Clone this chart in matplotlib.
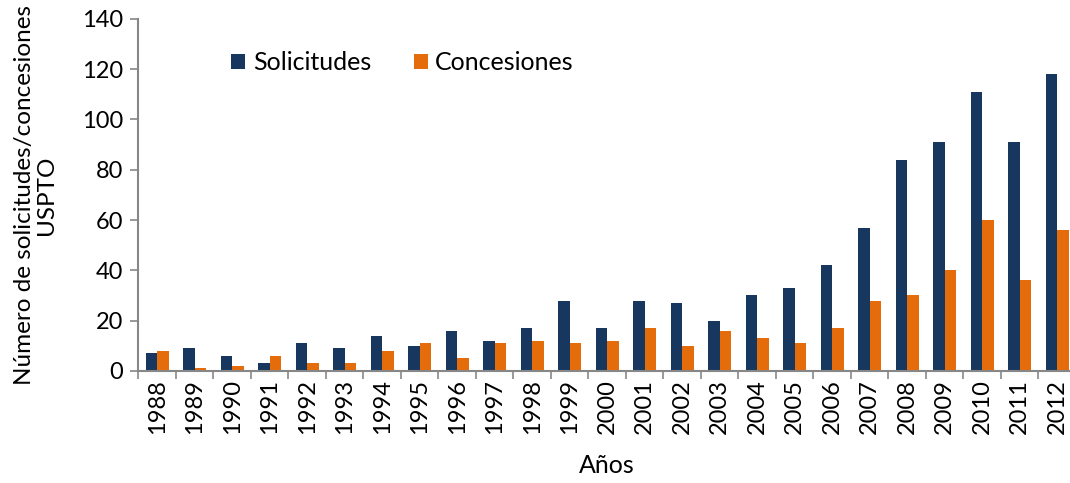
import matplotlib
matplotlib.use("Agg")
import matplotlib.pyplot as plt
import numpy as np

years = [str(y) for y in range(1988, 2013)]
solicitudes = [7, 9, 6, 3, 11, 9, 14, 10, 16, 12, 17, 28, 17, 28, 27, 20,
               30, 33, 42, 57, 84, 91, 111, 91, 118]
concesiones = [8, 1, 2, 6, 3, 3, 8, 11, 5, 11, 12, 11, 12, 17, 10, 16,
               13, 11, 17, 28, 30, 40, 60, 36, 56]

plt.rcParams['font.family'] = ['Lato', 'DejaVu Sans']
AXIS_GREY = '#878787'

fig = plt.figure(figsize=(10.7, 4.83), dpi=100)
ax = fig.add_axes([0.1294, 0.232, 0.8762, 0.729])

x = np.arange(len(years))
w = 0.31
ax.bar(x - w / 2, solicitudes, w, color='#17375E', label='Solicitudes')
ax.bar(x + w / 2, concesiones, w, color='#E46C0A', label='Concesiones')

ax.set_xlim(-0.5, len(years) - 0.5)
ax.set_ylim(0, 140)
ax.set_yticks(range(0, 141, 20))

# ticks at category boundaries, labels at the centres
ax.set_xticks(np.arange(-0.5, len(years), 1.0))
ax.set_xticklabels([])
ax.set_xticks(x, minor=True)
ax.set_xticklabels(years, minor=True, rotation=90, fontsize=17)
ax.tick_params(axis='x', which='minor', length=0, pad=6)
ax.tick_params(axis='x', which='major', length=6, width=1.2, color=AXIS_GREY)
ax.tick_params(axis='y', length=6, width=1.2, color=AXIS_GREY, labelsize=17, pad=5)

for side in ('top', 'right'):
    ax.spines[side].set_visible(False)
for side in ('left', 'bottom'):
    ax.spines[side].set_color(AXIS_GREY)
    ax.spines[side].set_linewidth(1.5)

ax.set_xlabel('Años', fontsize=18, labelpad=14)
ax.set_ylabel('Número de solicitudes/concesiones\nUSPTO', fontsize=17.5, labelpad=18,
              linespacing=1.05)

ax.legend(loc='upper left', bbox_to_anchor=(0.099, 0.908), ncol=2, frameon=False,
          fontsize=18, handlelength=0.56, handleheight=0.56, handletextpad=0.3,
          columnspacing=1.7, borderaxespad=0, borderpad=0)

fig.savefig('out.png', dpi=100)
